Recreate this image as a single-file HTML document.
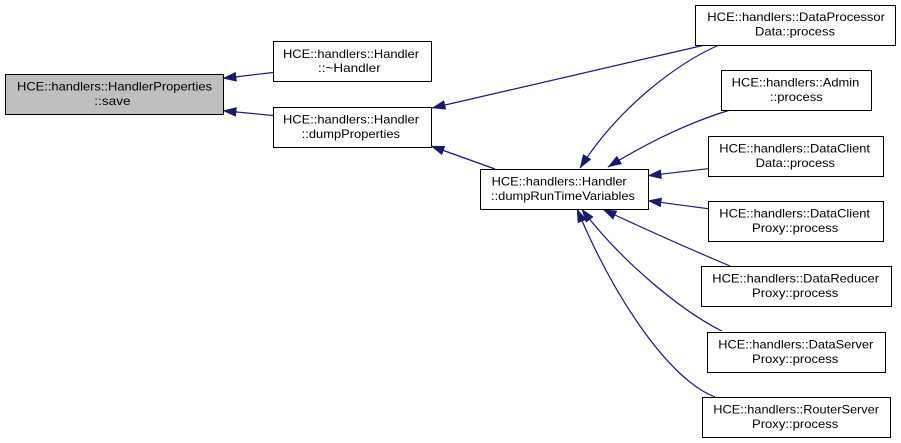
<!DOCTYPE html>
<html><head><meta charset="utf-8"><style>
html,body{margin:0;padding:0;background:#fff;}
svg{display:block;}
text{font-family:"Liberation Sans",Arial,sans-serif;font-size:12px;fill:#000;}
</style></head><body>
<svg width="901" height="443" viewBox="0 0 901 443" xmlns="http://www.w3.org/2000/svg">
<defs>
<marker id="a" markerUnits="userSpaceOnUse" markerWidth="14" markerHeight="10" viewBox="0 0 13 9" refX="12.5" refY="4.5" orient="auto">
<path d="M0,0 L13,4.5 L0,9 z" fill="#191970"/>
</marker>
</defs>
<g fill="none" stroke="#191970" stroke-width="1.2" marker-end="url(#a)">
<path d="M273,72.5 L223,78.3"/>
<path d="M273,115.5 L223,110.7"/>
<path d="M705,45 L432,108"/>
<path d="M495,169 L431,146"/>
<path d="M719,45 C680,62 620,105 580,168"/>
<path d="M730,110 Q671,128 608,167"/>
<path d="M708,168.7 L648,175.7"/>
<path d="M708,208.7 L648,200.7"/>
<path d="M730,266 Q673,242 603,209.5"/>
<path d="M721.7,331 C680,310 620,260 581.7,209"/>
<path d="M715,397 C670,380 615,300 577,209"/>
</g>
<g stroke="#000" stroke-width="1" fill="#fff">
<rect x="5.5" y="74.5" width="218" height="40" fill="#bfbfbf"/>
<rect x="273.5" y="41.5" width="158" height="40"/>
<rect x="273.5" y="107.5" width="158" height="40"/>
<rect x="480.5" y="169.5" width="168" height="40"/>
<rect x="695.5" y="5.5" width="200" height="40"/>
<rect x="721.5" y="70.5" width="150" height="40"/>
<rect x="708.5" y="136.5" width="175" height="40"/>
<rect x="708.5" y="201.5" width="175" height="40"/>
<rect x="701.5" y="266.5" width="190" height="40"/>
<rect x="707.5" y="332.5" width="178" height="40"/>
<rect x="702.5" y="397.5" width="188" height="40"/>
</g>
<g>
<text x="17" y="90.5" textLength="195" lengthAdjust="spacingAndGlyphs">HCE::handlers::HandlerProperties</text>
<text x="94.3" y="105" textLength="36.3" lengthAdjust="spacingAndGlyphs">::save</text>

<text x="283" y="58" textLength="136" lengthAdjust="spacingAndGlyphs">HCE::handlers::Handler</text>
<text x="318" y="72" textLength="62.7" lengthAdjust="spacingAndGlyphs">::~Handler</text>

<text x="283" y="123.5" textLength="136" lengthAdjust="spacingAndGlyphs">HCE::handlers::Handler</text>
<text x="301.7" y="138" textLength="98.3" lengthAdjust="spacingAndGlyphs">::dumpProperties</text>

<text x="491.7" y="185.5" textLength="135" lengthAdjust="spacingAndGlyphs">HCE::handlers::Handler</text>
<text x="491" y="200" textLength="144" lengthAdjust="spacingAndGlyphs">::dumpRunTimeVariables</text>

<text x="707.3" y="21" textLength="177.7" lengthAdjust="spacingAndGlyphs">HCE::handlers::DataProcessor</text>
<text x="755" y="35.5" textLength="80" lengthAdjust="spacingAndGlyphs">Data::process</text>

<text x="731.7" y="86.5" textLength="127.6" lengthAdjust="spacingAndGlyphs">HCE::handlers::Admin</text>
<text x="770" y="101" textLength="52.7" lengthAdjust="spacingAndGlyphs">::process</text>

<text x="719.3" y="152.5" textLength="150.7" lengthAdjust="spacingAndGlyphs">HCE::handlers::DataClient</text>
<text x="755.7" y="167" textLength="79.3" lengthAdjust="spacingAndGlyphs">Data::process</text>

<text x="719.3" y="217.5" textLength="150.7" lengthAdjust="spacingAndGlyphs">HCE::handlers::DataClient</text>
<text x="752" y="232" textLength="86.3" lengthAdjust="spacingAndGlyphs">Proxy::process</text>

<text x="712.3" y="282.5" textLength="166.7" lengthAdjust="spacingAndGlyphs">HCE::handlers::DataReducer</text>
<text x="752" y="297" textLength="86.3" lengthAdjust="spacingAndGlyphs">Proxy::process</text>

<text x="718.3" y="348.5" textLength="155" lengthAdjust="spacingAndGlyphs">HCE::handlers::DataServer</text>
<text x="752" y="363" textLength="86.3" lengthAdjust="spacingAndGlyphs">Proxy::process</text>

<text x="713.3" y="413.5" textLength="165.7" lengthAdjust="spacingAndGlyphs">HCE::handlers::RouterServer</text>
<text x="752" y="428" textLength="86.3" lengthAdjust="spacingAndGlyphs">Proxy::process</text>
</g>
</svg>
</body></html>
